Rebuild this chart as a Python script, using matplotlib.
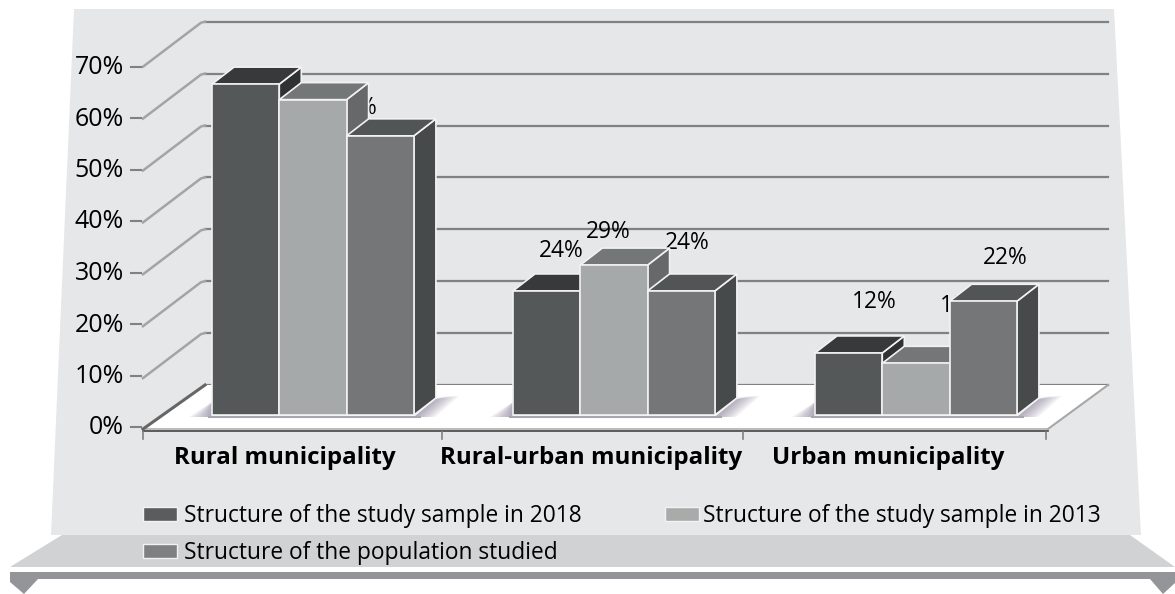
import numpy as np
import matplotlib
matplotlib.use('Agg')
import matplotlib.pyplot as plt
from matplotlib.patches import Polygon, Rectangle

plt.rcParams['font.family'] = ['Open Sans', 'DejaVu Sans']

categories = ['Rural municipality', 'Rural-urban municipality', 'Urban municipality']
series_names = ['Structure of the study sample in 2018',
                'Structure of the study sample in 2013',
                'Structure of the population studied']
sample_2018 = [64, 24, 12]
sample_2013 = [61, 29, 10]
population = [54, 24, 22]
y_ticks = [0, 10, 20, 30, 40, 50, 60, 70]

# colours: front, top, side
front_cols = ['#545859', '#a6a9a9', '#747677']
top_cols = ['#37393a', '#747778', '#525555']
side_cols = ['#2f3233', '#66686a', '#474a4b']
swatch_cols = ['#5a5c5e', '#a9abab', '#7e8082']

# the page is laid out in reference pixels
fig = plt.figure(figsize=(11.75, 5.94), dpi=100)
ax = fig.add_axes([0, 0, 1, 1])
ax.set_xlim(0, 1175)
ax.set_ylim(594, 0)
ax.axis('off')

# panel and shelf
ax.add_patch(Polygon([(74, 9), (1114, 9), (1141, 535), (51, 535)], fc='#e6e7e8', ec='none', zorder=0))
ax.add_patch(Polygon([(62, 535), (1130, 535), (1175, 567), (10, 567)], fc='#d1d2d4', ec='none', zorder=0))
ax.add_patch(Rectangle((10, 572), 1165, 7, fc='#939598', ec='none', zorder=0))
ax.add_patch(Polygon([(10, 579), (38, 579), (24, 594), (10, 582)], fc='#939598', ec='none', zorder=0))
ax.add_patch(Polygon([(1150, 579), (1175, 579), (1175, 583), (1163, 594)], fc='#939598', ec='none', zorder=0))

base = 415
scale = 5.17
dx, dy = 22, -17
bar_w = 67.3
group_x = [212, 513, 815]
floor_back = 385
step = 51.9

# floor
ax.add_patch(Polygon([(143, 428), (205, floor_back), (1108, floor_back), (1048, 428)],
                     fc='white', ec='none', zorder=2))
ax.plot([143, 1048], [429, 429], color='#bcbcbc', lw=1.5, zorder=3)
ax.plot([143, 1048], [431, 431], color='#444444', lw=1.2, zorder=3)
ax.plot([143, 205], [429, floor_back], color='#666666', lw=2.2, zorder=3)
ax.plot([1048, 1108], [429, floor_back], color='#a8a8a8', lw=1.5, zorder=3)

# grid and left wall
for i, t in enumerate(y_ticks):
    yb = floor_back - i * step
    ax.plot([205, 1108], [yb, yb], color='#808182', lw=1.6, zorder=1)
    if i > 0:
        ax.plot([143, 201, 205], [yb + 45, yb + 1, yb], color='#a3a4a6', lw=1.8, zorder=1)
    ax.plot([131, 141], [427 - i * 51.5, 427 - i * 51.5], color='#808182', lw=1.5, zorder=1)
    ax.text(124, 428 - i * 51.5, f'{t}%', ha='right', va='center', fontsize=18, color='black', zorder=1)

# x ticks
for xt in [143, 442, 743, 1046]:
    ax.plot([xt, xt], [432, 439], color='#808182', lw=1.2, zorder=3)

# floor shadows behind the groups
for gx in group_x:
    x1 = gx + 3 * bar_w
    for off in np.arange(2, 26, 3):
        ax.add_patch(Polygon([(gx - off, 417), (gx, 402), (gx, 417)], fc='#6d6280', ec='none', alpha=0.09, zorder=2.5))
        ax.add_patch(Polygon([(x1, 417), (x1 + dx, 399), (x1 + dx + off, 396), (x1 + off - 2, 417)],
                             fc='#6d6280', ec='none', alpha=0.09, zorder=2.5))
    ax.plot([gx - 3, x1 + 6], [417, 417], color='#a9a6b0', lw=1.5, zorder=2.5)

# data labels sit behind the bars, most of them are hidden
label_pos = [[(250, 130), (355, 108), (380, 170)],
             [(561, 251), (608, 232), (687, 243)],
             [(874, 302), (962, 306), (1005, 258)]]
all_vals = [sample_2018, sample_2013, population]
for s, vals in enumerate(all_vals):
    for g, v in enumerate(vals):
        px, py = label_pos[g][s]
        ax.text(px, py, f'{v}%', ha='center', va='center', fontsize=16.4, color='black', zorder=3)

# bars
for s, vals in enumerate(all_vals):
    for g, v in enumerate(vals):
        x0 = group_x[g] + s * bar_w
        x1 = x0 + bar_w
        top = base - v * scale
        z = 5 + s
        ax.add_patch(Polygon([(x1, base), (x1 + dx, base + dy), (x1 + dx, top + dy), (x1, top)],
                             fc=side_cols[s], ec='#f2f2f2', lw=1.2, zorder=z))
        ax.add_patch(Polygon([(x0, top), (x0 + dx, top + dy), (x1 + dx, top + dy), (x1, top)],
                             fc=top_cols[s], ec='#f2f2f2', lw=1.2, zorder=z))
        ax.add_patch(Rectangle((x0, top), bar_w, base - top, fc=front_cols[s], ec='#f2f2f2', lw=1.2, zorder=z + 0.5))

# category labels
cat_x = [285, 591, 888]
for c, cx in zip(categories, cat_x):
    ax.text(cx, 458, c, ha='center', va='center', fontsize=17.4, fontweight='bold', color='black', zorder=4)

# legend
leg_pos = [(143, 514), (665, 514), (143, 551)]
text_x = [184, 703, 184]
for name, col, (lx, ly), tx in zip(series_names, swatch_cols, leg_pos, text_x):
    ax.add_patch(Rectangle((lx, ly - 7), 34, 14, fc=col, ec='#f2f2f2', lw=1, zorder=4))
    ax.text(tx, ly + 2, name, ha='left', va='center', fontsize=16.4, color='black', zorder=4)

fig.savefig('out.png', dpi=100)
